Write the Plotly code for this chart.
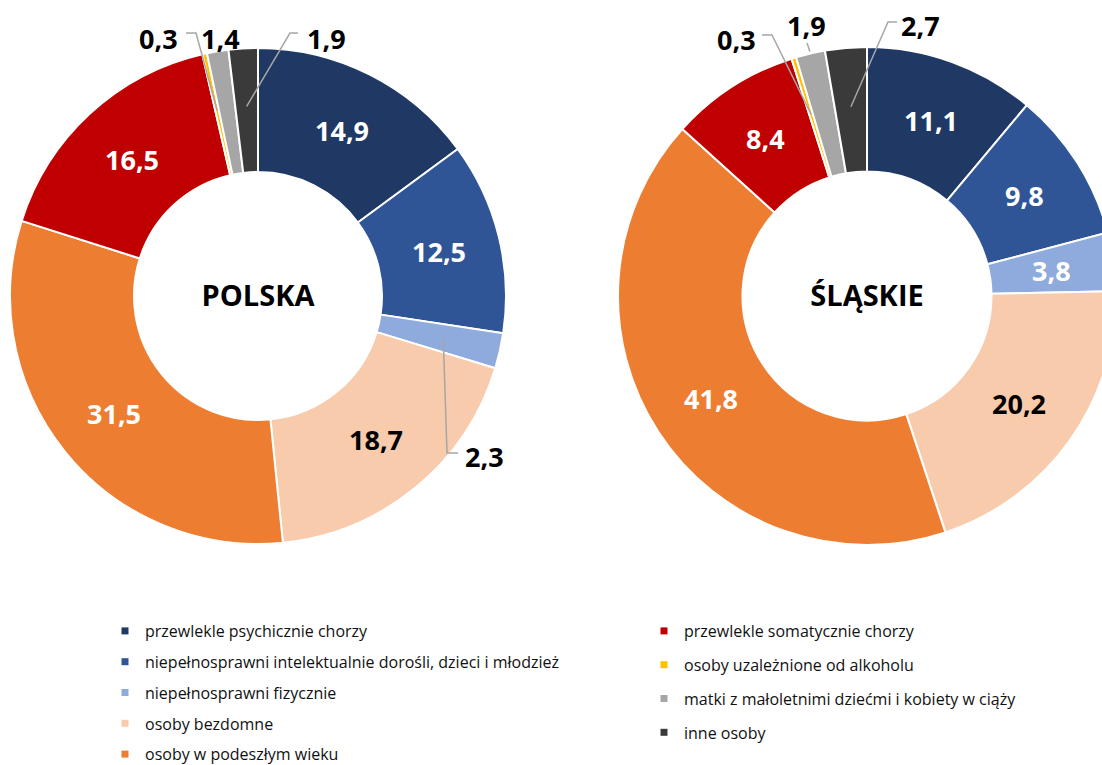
import math
import plotly.graph_objects as go

# ---------------- data ----------------
categories = [
    "przewlekle psychicznie chorzy",
    "niepełnosprawni intelektualnie dorośli, dzieci i młodzież",
    "niepełnosprawni fizycznie",
    "osoby bezdomne",
    "osoby w podeszłym wieku",
    "przewlekle somatycznie chorzy",
    "osoby uzależnione od alkoholu",
    "matki z małoletnimi dziećmi i kobiety w ciąży",
    "inne osoby",
]
polska = [14.9, 12.5, 2.3, 18.7, 31.5, 16.5, 0.3, 1.4, 1.9]
slaskie = [11.1, 9.8, 3.8, 20.2, 41.8, 8.4, 0.3, 1.9, 2.7]
region_titles = ["POLSKA", "ŚLĄSKIE"]

colors = ["#1F3864", "#2F5597", "#8FAADC", "#F8CBAD", "#ED7D31",
          "#C00000", "#FFC000", "#A6A6A6", "#3A3A3A"]
label_colors = ["white", "white", "white", "black", "white",
                "white", "white", "white", "white"]

# ---------------- geometry ----------------
W, H = 1120, 765
FONT = "Open Sans"
HOLE = 0.5
NUM_SIZE = 27
pies = [
    dict(values=polska, cx=258, cy=296, R=248),
    dict(values=slaskie, cx=867, cy=296, R=249),
]


def fmt(v):
    return f"{v:.1f}".replace(".", ",")


def to_paper(x, y):
    return x / W, 1 - y / H


def slice_point(values, idx, cx, cy, r):
    total = sum(values)
    mid = (sum(values[:idx]) + values[idx] / 2) / total
    th = 2 * math.pi * mid
    return cx + r * math.sin(th), cy - r * math.cos(th)


fig = go.Figure()
annotations = []
shapes = []

for p, title in zip(pies, region_titles):
    vals = p["values"]
    cx, cy, R = p["cx"], p["cy"], p["R"]
    x0, y0 = to_paper(cx - R, cy + R)
    x1, y1 = to_paper(cx + R, cy - R)
    fig.add_trace(go.Pie(
        labels=categories,
        values=vals,
        textinfo="none",
        marker=dict(colors=colors, line=dict(color="white", width=2)),
        hole=HOLE,
        sort=False,
        direction="clockwise",
        rotation=0,
        domain=dict(x=[x0, x1], y=[y0, y1]),
        title=dict(text=title, position="middle center",
                   font=dict(family=FONT, size=29, weight="bold", color="black")),
        showlegend=False,
        hoverinfo="label+value",
    ))
    # value labels inside the ring (placed at the ring's mid radius of each slice)
    r_mid = R * (1 + HOLE) / 2
    for i, v in enumerate(vals):
        if v >= 3:
            px, py = slice_point(vals, i, cx, cy, r_mid)
            ax, ay = to_paper(px, py)
            annotations.append(dict(
                x=ax, y=ay, xref="paper", yref="paper", showarrow=False,
                text=fmt(v), xanchor="center", yanchor="middle",
                font=dict(family=FONT, size=NUM_SIZE, weight="bold",
                          color=label_colors[i]),
            ))

# ---------------- small-slice labels with leader lines ----------------
# (pie index, slice index, label x, label y, leader points before target, target radius)
small_labels = [
    (0, 6, 158, 38, [(186, 33), (196, 33)], 190),
    (0, 7, 220, 38, None, None),
    (0, 8, 326, 38, [(298, 33), (290, 33)], 190),
    (0, 2, 484, 456, [(458, 453), (447, 453)], 190),
    (1, 6, 736, 39, [(762, 35), (772, 35)], 190),
    (1, 7, 806, 26, [(807, 43)], 251),
    (1, 8, 920, 26, [(897, 22), (888, 22)], 190),
]
for pi, si, tx, ty, pts, rr in small_labels:
    p = pies[pi]
    ax, ay = to_paper(tx, ty)
    annotations.append(dict(
        x=ax, y=ay, xref="paper", yref="paper", showarrow=False,
        text=fmt(p["values"][si]),
        font=dict(family=FONT, size=NUM_SIZE, weight="bold", color="black"),
        xanchor="center", yanchor="middle",
    ))
    if pts:
        tgt = slice_point(p["values"], si, p["cx"], p["cy"], rr)
        path_pts = [to_paper(*q) for q in pts + [tgt]]
        path = "M " + " L ".join(f"{a:.5f},{b:.5f}" for a, b in path_pts)
        shapes.append(dict(type="path", path=path, xref="paper", yref="paper",
                           line=dict(color="#A6A6A6", width=1.5)))

# ---------------- legend entries ----------------
for i, (cat, col) in enumerate(zip(categories, colors)):
    fig.add_trace(go.Scatter(
        x=[None], y=[None], mode="markers",
        marker=dict(symbol="square", size=7, color=col),
        name=cat, legendgroup=str(i),
        legend="legend" if i < 5 else "legend2",
        hoverinfo="skip",
    ))

legend_font = dict(family=FONT, size=16, color="#111111")
lx1, ly1 = to_paper(105, 614)
lx2, ly2 = to_paper(644, 614)

fig.update_layout(
    width=W, height=H,
    margin=dict(l=0, r=0, t=0, b=0, autoexpand=False),
    paper_bgcolor="white", plot_bgcolor="white",
    xaxis=dict(visible=False), yaxis=dict(visible=False),
    annotations=annotations,
    shapes=shapes,
    legend=dict(x=lx1, y=ly1, xanchor="left", yanchor="top", font=legend_font,
                tracegroupgap=7, bgcolor="rgba(0,0,0,0)", itemclick=False,
                itemdoubleclick=False),
    legend2=dict(x=lx2, y=ly2, xanchor="left", yanchor="top", font=legend_font,
                 tracegroupgap=10, bgcolor="rgba(0,0,0,0)", itemclick=False,
                 itemdoubleclick=False),
    showlegend=True,
)

fig.write_html(
    "out.html",
    config={"displayModeBar": False},
    post_script="document.documentElement.style.overflow='hidden';"
                "document.body.style.overflow='hidden';"
                "document.body.style.margin='0';",
)
